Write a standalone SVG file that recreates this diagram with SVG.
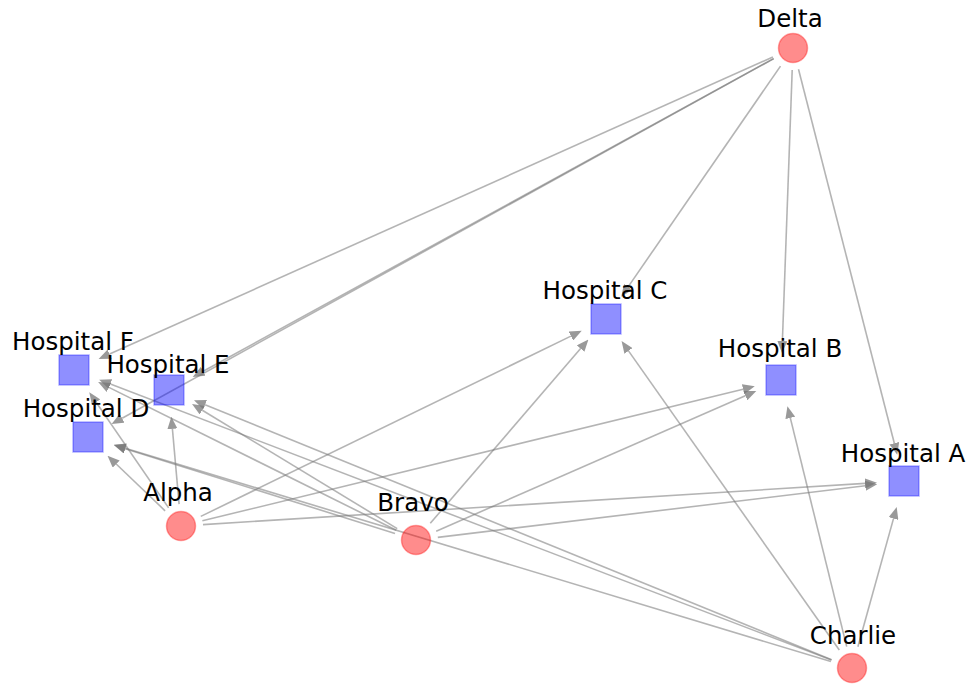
<svg xmlns="http://www.w3.org/2000/svg" width="968" height="684" viewBox="0 0 968 684">
<style>
.e{stroke:#777;stroke-opacity:0.55;stroke-width:1.6;fill:none;marker-end:url(#ah)}
.src{fill:#ff0000;fill-opacity:0.45;stroke:#ff0000;stroke-opacity:0.35;stroke-width:1.5}
.hos{fill:#0000ff;fill-opacity:0.44;stroke:#0000ff;stroke-opacity:0.3;stroke-width:1.5}
text{font-family:"DejaVu Sans","Liberation Sans",sans-serif;font-size:24.5px;fill:#000;text-anchor:middle}
</style>
<defs>
<marker id="ah" viewBox="0 0 12 10" refX="0" refY="5" markerWidth="12" markerHeight="10" markerUnits="userSpaceOnUse" orient="auto">
<path d="M0,0 L12,5 L0,10 z" fill="#777" fill-opacity="0.75"/>
</marker>
</defs>
<rect width="968" height="684" fill="#fff"/>
<g id="edges">
<line class="e" x1="772.9" y1="57.0" x2="109.6" y2="354.1"/>
<line class="e" x1="773.7" y1="58.6" x2="203.2" y2="371.3"/>
<line class="e" x1="773.7" y1="58.6" x2="122.1" y2="418.2"/>
<line class="e" x1="780.5" y1="66.1" x2="628.1" y2="286.9"/>
<line class="e" x1="792.2" y1="70.0" x2="782.4" y2="341.0"/>
<line class="e" x1="798.5" y1="69.3" x2="894.3" y2="443.2"/>
<line class="e" x1="165.1" y1="510.8" x2="116.2" y2="464.0"/>
<line class="e" x1="168.6" y1="507.9" x2="96.1" y2="402.2"/>
<line class="e" x1="179.1" y1="504.1" x2="172.4" y2="428.8"/>
<line class="e" x1="200.8" y1="516.4" x2="570.9" y2="336.1"/>
<line class="e" x1="202.4" y1="520.8" x2="743.1" y2="389.2"/>
<line class="e" x1="203.0" y1="524.6" x2="865.1" y2="483.4"/>
<line class="e" x1="395.0" y1="533.4" x2="125.2" y2="448.7"/>
<line class="e" x1="396.3" y1="530.2" x2="108.9" y2="387.4"/>
<line class="e" x1="397.2" y1="528.6" x2="202.3" y2="410.2"/>
<line class="e" x1="430.3" y1="523.3" x2="580.6" y2="348.6"/>
<line class="e" x1="436.2" y1="531.2" x2="745.3" y2="395.7"/>
<line class="e" x1="437.8" y1="537.4" x2="865.3" y2="485.7"/>
<line class="e" x1="857.9" y1="646.8" x2="893.5" y2="518.6"/>
<line class="e" x1="846.7" y1="646.6" x2="790.3" y2="417.9"/>
<line class="e" x1="839.3" y1="650.0" x2="628.5" y2="350.9"/>
<line class="e" x1="830.9" y1="661.6" x2="125.3" y2="448.3"/>
<line class="e" x1="831.6" y1="659.7" x2="205.1" y2="404.7"/>
<line class="e" x1="831.5" y1="660.1" x2="110.4" y2="384.0"/>
</g>
<g id="delta"><circle class="src" cx="793" cy="48" r="14.5"/><text x="790" y="27">Delta</text></g>
<g id="alpha"><circle class="src" cx="181" cy="526" r="14.5"/><text x="178" y="501">Alpha</text></g>
<g id="bravo"><circle class="src" cx="416" cy="540" r="14.5"/><text x="413" y="511">Bravo</text></g>
<g id="charlie"><circle class="src" cx="852" cy="668" r="14.5"/><text x="853" y="644">Charlie</text></g>
<g id="hospital-a"><rect class="hos" x="889" y="466" width="30" height="30"/><text x="903" y="462">Hospital A</text></g>
<g id="hospital-b"><rect class="hos" x="766" y="365" width="30" height="30"/><text x="780" y="357">Hospital B</text></g>
<g id="hospital-c"><rect class="hos" x="591" y="304" width="30" height="30"/><text x="605" y="299">Hospital C</text></g>
<g id="hospital-d"><rect class="hos" x="73" y="422" width="30" height="30"/><text x="86" y="417">Hospital D</text></g>
<g id="hospital-e"><rect class="hos" x="154" y="375" width="30" height="30"/><text x="168" y="373">Hospital E</text></g>
<g id="hospital-f"><rect class="hos" x="59" y="355" width="30" height="30"/><text x="73" y="350">Hospital F</text></g>
</svg>
